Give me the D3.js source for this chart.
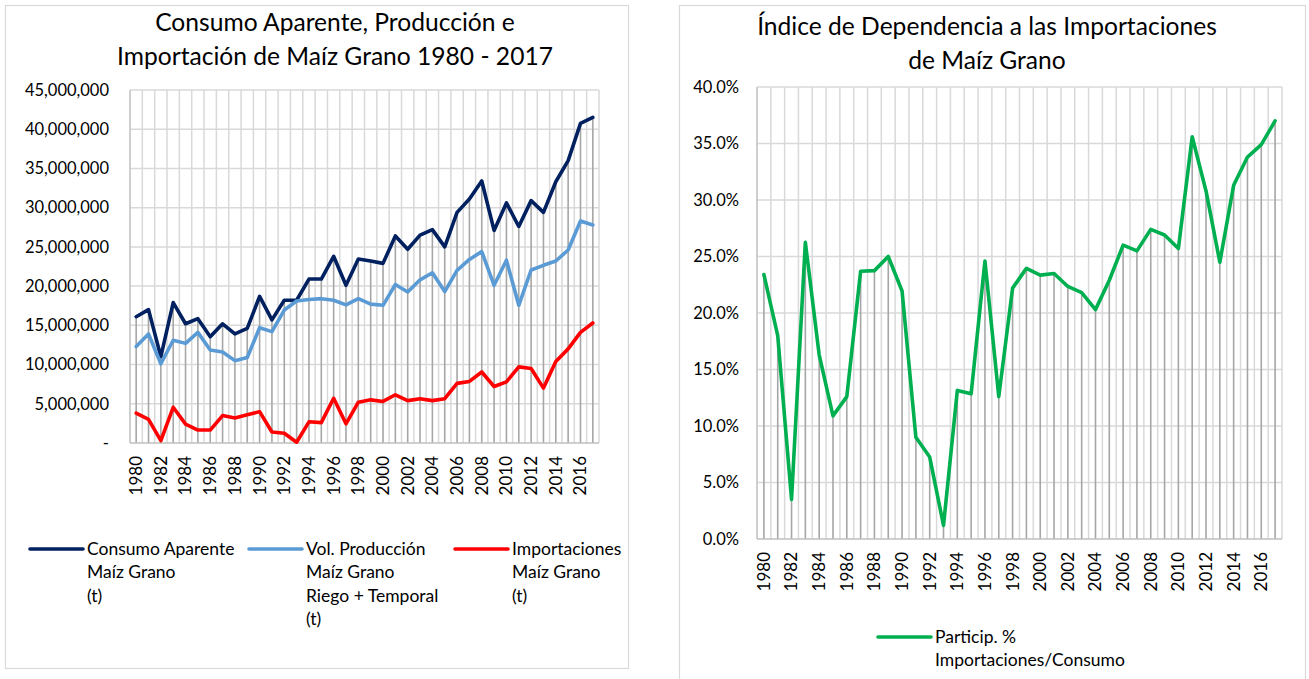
<!DOCTYPE html>
<html>
<head>
<meta charset="utf-8">
<script src="https://cdn.jsdelivr.net/npm/d3@7"></script>
<style>
  body { margin: 0; background: #fff; }
  text { font-family: Lato, "Open Sans", sans-serif; fill: #000; }
</style>
</head>
<body>
<div id="container"></div>
<script>
const years = d3.range(1980, 2018)
const yearLabels = years.filter((d, i) => i % 2 === 0)

const consumo = [16.1, 17.0, 11.0, 17.9, 15.2, 15.85, 13.55, 15.2, 13.9, 14.6,
  18.7, 15.7, 18.2, 18.2, 20.9, 20.9, 23.8, 20.1, 23.45, 23.2,
  22.9, 26.4, 24.7, 26.5, 27.2, 25.0, 29.4, 31.1, 33.4, 27.1,
  30.6, 27.6, 30.9, 29.4, 33.3, 36.0, 40.75, 41.5].map(d => d * 1e6)

const produccion = [12.3, 13.9, 10.1, 13.1, 12.7, 14.1, 11.85, 11.6, 10.5, 10.9,
  14.7, 14.2, 16.95, 18.1, 18.3, 18.4, 18.2, 17.6, 18.4, 17.7,
  17.55, 20.2, 19.25, 20.8, 21.7, 19.3, 22.0, 23.4, 24.4, 20.1,
  23.3, 17.55, 22.05, 22.65, 23.2, 24.6, 28.3, 27.8].map(d => d * 1e6)

const importaciones = [3.8, 3.0, 0.3, 4.55, 2.4, 1.65, 1.65, 3.5, 3.2, 3.6,
  4.0, 1.4, 1.25, 0.1, 2.7, 2.6, 5.7, 2.45, 5.2, 5.5,
  5.3, 6.15, 5.4, 5.65, 5.4, 5.65, 7.6, 7.85, 9.05, 7.2,
  7.8, 9.7, 9.5, 7.0, 10.4, 12.0, 14.1, 15.3].map(d => d * 1e6)

const participacion = [23.4, 18.0, 3.5, 26.25, 16.3, 10.9, 12.6, 23.7, 23.75, 25.0,
  21.95, 9.0, 7.25, 1.2, 13.15, 12.85, 24.6, 12.6, 22.2, 23.95,
  23.35, 23.5, 22.35, 21.8, 20.3, 22.9, 26.0, 25.5, 27.4, 26.9,
  25.7, 35.6, 30.8, 24.5, 31.3, 33.8, 34.9, 37.0].map(d => d / 100)

const leftTitle = ["Consumo Aparente, Producción e", "Importación de Maíz Grano 1980 - 2017"]
const rightTitle = ["Índice de Dependencia a las Importaciones", "de Maíz Grano"]

const leftSeries = [
  { name: ["Consumo Aparente", "Maíz Grano", "(t)"], values: consumo, color: "#002060" },
  { name: ["Vol. Producción", "Maíz Grano", "Riego + Temporal", "(t)"], values: produccion, color: "#5B9BD5" },
  { name: ["Importaciones", "Maíz Grano", "(t)"], values: importaciones, color: "#FF0000" }
]
const rightSeries = [
  { name: ["Particip. %", "Importaciones/Consumo"], values: participacion, color: "#00B050" }
]

const width = 1309
const height = 679

const svg = d3.select("#container")
  .append("svg")
  .attr("width", width)
  .attr("height", height)

// chart frames
svg.append("rect")
  .attr("x", 5.5).attr("y", 5.5)
  .attr("width", 623).attr("height", 663)
  .attr("fill", "#fff").attr("stroke", "#D9D9D9").attr("stroke-width", 1.2)
svg.append("rect")
  .attr("x", 679.5).attr("y", 5.5)
  .attr("width", 626).attr("height", 700)
  .attr("fill", "#fff").attr("stroke", "#D9D9D9").attr("stroke-width", 1.2)

function drawChart(cfg) {
  const g = svg.append("g")

  const xScale = d3.scaleBand()
    .domain(years)
    .range([cfg.left, cfg.right])
  const bw = xScale.bandwidth()
  const cx = d => xScale(d) + bw / 2

  const yScale = d3.scaleLinear()
    .domain([0, cfg.max])
    .range([cfg.bottom, cfg.top])

  // title
  g.append("text")
    .attr("x", cfg.titleX)
    .attr("text-anchor", "middle")
    .style("font-size", "24.6px")
    .selectAll("tspan")
    .data(cfg.title)
    .enter()
    .append("tspan")
    .attr("x", cfg.titleX)
    .attr("y", (d, i) => cfg.titleY + i * 34)
    .text(d => d)

  // horizontal gridlines
  const ticks = d3.range(0, cfg.max + cfg.step / 2, cfg.step)
  g.append("g")
    .selectAll("line")
    .data(ticks.slice(1))
    .enter()
    .append("line")
    .attr("x1", cfg.left).attr("x2", cfg.right)
    .attr("y1", d => yScale(d)).attr("y2", d => yScale(d))
    .attr("stroke", "#D9D9D9").attr("stroke-width", 1.5)

  // vertical gridlines between categories
  g.append("g")
    .selectAll("line")
    .data(years.slice(1).concat(["end"]))
    .enter()
    .append("line")
    .attr("x1", d => d === "end" ? cfg.right : xScale(d))
    .attr("x2", d => d === "end" ? cfg.right : xScale(d))
    .attr("y1", cfg.top).attr("y2", cfg.bottom)
    .attr("stroke", "#D9D9D9").attr("stroke-width", 1.5)

  // drop lines from highest point
  g.append("g")
    .selectAll("line")
    .data(years)
    .enter()
    .append("line")
    .attr("x1", d => cx(d)).attr("x2", d => cx(d))
    .attr("y1", (d, i) => yScale(d3.max(cfg.series, s => s.values[i])))
    .attr("y2", cfg.bottom)
    .attr("stroke", "#A6A6A6").attr("stroke-width", 1.6)

  // axis lines
  g.append("line")
    .attr("x1", cfg.left).attr("x2", cfg.left)
    .attr("y1", cfg.top).attr("y2", cfg.bottom)
    .attr("stroke", "#BFBFBF").attr("stroke-width", 1.5)
  g.append("line")
    .attr("x1", cfg.left).attr("x2", cfg.right)
    .attr("y1", cfg.bottom).attr("y2", cfg.bottom)
    .attr("stroke", "#BFBFBF").attr("stroke-width", 1.5)

  // y axis labels
  const yAxis = d3.axisLeft(yScale)
    .tickValues(ticks)
    .tickSize(0)
    .tickPadding(cfg.left - cfg.yLabelX)
    .tickFormat(cfg.format)
  g.append("g")
    .attr("transform", `translate(${cfg.left},0)`)
    .call(yAxis)
    .call(a => a.select(".domain").remove())
    .selectAll("text")
    .style("font-size", "16.5px")
    .style("font-family", "Lato, sans-serif")
    .attr("fill", "#000")

  // x axis labels, every other year
  const xAxis = d3.axisBottom(xScale)
    .tickValues(yearLabels)
    .tickSize(0)
  g.append("g")
    .attr("transform", `translate(0,${cfg.bottom})`)
    .call(xAxis)
    .call(a => a.select(".domain").remove())
    .selectAll("text")
    .style("font-size", "17px")
    .style("font-family", "Lato, sans-serif")
    .attr("fill", "#000")
    .attr("text-anchor", "end")
    .attr("dy", "0.35em")
    .attr("transform", "translate(0,13) rotate(-90)")
    .attr("x", 0).attr("y", 0)

  // series lines
  const line = d3.line()
    .x((d, i) => cx(years[i]))
    .y(d => yScale(d))
  cfg.series.forEach(s => {
    g.append("path")
      .datum(s.values)
      .attr("d", line)
      .attr("fill", "none")
      .attr("stroke", s.color)
      .attr("stroke-width", 3.6)
      .attr("stroke-linejoin", "round")
      .attr("stroke-linecap", "round")
  })

  // legend
  cfg.series.forEach((s, k) => {
    const lx = cfg.legendX[k]
    g.append("line")
      .attr("x1", lx).attr("x2", lx + 53)
      .attr("y1", cfg.legendY).attr("y2", cfg.legendY)
      .attr("stroke", s.color).attr("stroke-width", 3.6)
      .attr("stroke-linecap", "round")
    g.append("text")
      .style("font-size", "17.5px")
      .selectAll("tspan")
      .data(s.name)
      .enter()
      .append("tspan")
      .attr("x", lx + 57)
      .attr("y", (d, i) => cfg.legendY + 6 + i * 23.3)
      .text(d => d)
  })
}

const bigFormat = d => d === 0 ? "-" : d3.format(",")(d)

drawChart({
  left: 130, right: 599, top: 90, bottom: 443,
  max: 45e6, step: 5e6, format: bigFormat, yLabelX: 109,
  title: leftTitle, titleX: 335, titleY: 31,
  series: leftSeries,
  legendX: [30, 249, 455], legendY: 549
})

drawChart({
  left: 757, right: 1282, top: 87, bottom: 539,
  max: 0.4, step: 0.05, format: d3.format(".1%"), yLabelX: 739,
  title: rightTitle, titleX: 987, titleY: 35,
  series: rightSeries,
  legendX: [878], legendY: 637
})
</script>
</body>
</html>
